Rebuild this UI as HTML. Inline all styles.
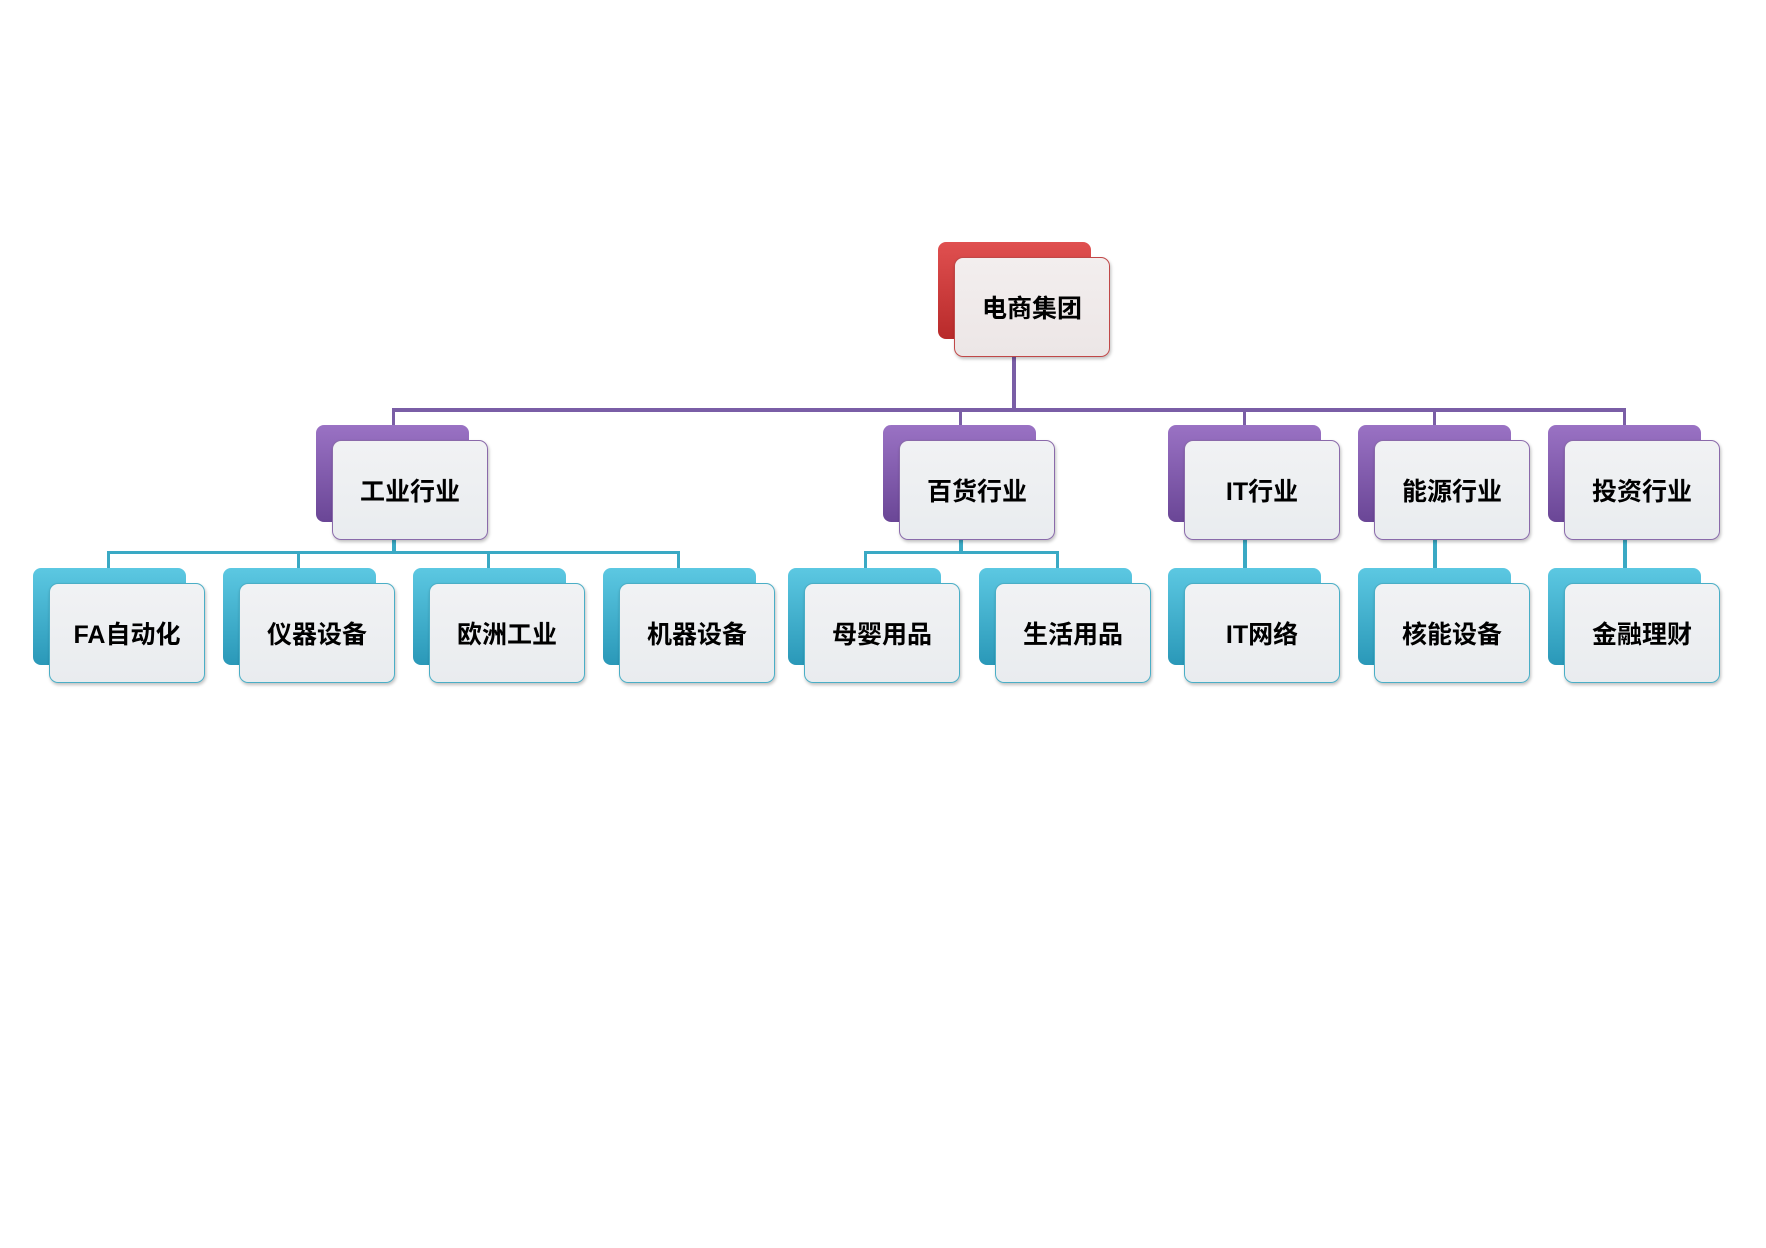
<!DOCTYPE html>
<html><head><meta charset="utf-8"><style>
body{margin:0;width:1766px;height:1248px;background:#fff;position:relative;overflow:hidden;font-family:"Liberation Sans","Noto Sans CJK SC",sans-serif}
.b{position:absolute;width:153px;height:97px;border-radius:8px}
.f{position:absolute;width:154px;height:98px;border-radius:9px;background:linear-gradient(#f1f2f4,#e9ecef);display:flex;align-items:center;justify-content:center;font-size:25px;font-weight:bold;color:#000;box-shadow:1px 2px 3px rgba(0,0,0,.25)}
.r .b{background:linear-gradient(#e05050,#b82a2a)}
.r .f{border:1.5px solid #c04848;background:linear-gradient(#f3eeee,#ece6e6)}
.p .b{background:linear-gradient(#9a72c4,#6a4696)}
.p .f{border:1.5px solid #8a6aaa}
.c .b{background:linear-gradient(#5cc8e2,#2a98b8)}
.c .f{border:1.5px solid #4aaec6}
.l{position:absolute}
</style></head><body>
<div class="l" style="left:1012px;top:357px;width:4px;height:55px;background:#7a5ea6"></div>
<div class="l" style="left:392px;top:408px;width:1234px;height:4px;background:#7a5ea6"></div>
<div class="l" style="left:392px;top:408px;width:3px;height:20px;background:#7a5ea6"></div>
<div class="l" style="left:959px;top:408px;width:3px;height:20px;background:#7a5ea6"></div>
<div class="l" style="left:1243px;top:408px;width:3px;height:20px;background:#7a5ea6"></div>
<div class="l" style="left:1433px;top:408px;width:3px;height:20px;background:#7a5ea6"></div>
<div class="l" style="left:1623px;top:408px;width:3px;height:20px;background:#7a5ea6"></div>
<div class="l" style="left:392px;top:540px;width:4px;height:13px;background:#3aa9c4"></div>
<div class="l" style="left:107px;top:551px;width:573px;height:3px;background:#3aa9c4"></div>
<div class="l" style="left:107px;top:551px;width:3px;height:20px;background:#3aa9c4"></div>
<div class="l" style="left:297px;top:551px;width:3px;height:20px;background:#3aa9c4"></div>
<div class="l" style="left:487px;top:551px;width:3px;height:20px;background:#3aa9c4"></div>
<div class="l" style="left:677px;top:551px;width:3px;height:20px;background:#3aa9c4"></div>
<div class="l" style="left:959px;top:540px;width:4px;height:13px;background:#3aa9c4"></div>
<div class="l" style="left:864px;top:551px;width:195px;height:3px;background:#3aa9c4"></div>
<div class="l" style="left:864px;top:551px;width:3px;height:20px;background:#3aa9c4"></div>
<div class="l" style="left:1056px;top:551px;width:3px;height:20px;background:#3aa9c4"></div>
<div class="l" style="left:1243px;top:540px;width:4px;height:30px;background:#3aa9c4"></div>
<div class="l" style="left:1433px;top:540px;width:4px;height:30px;background:#3aa9c4"></div>
<div class="l" style="left:1623px;top:540px;width:4px;height:30px;background:#3aa9c4"></div>

<div class="r"><div class="b" style="left:938px;top:242px"></div><div class="f" style="left:954px;top:257px">电商集团</div></div>

<div class="p">
<div class="b" style="left:316px;top:425px"></div><div class="f" style="left:332px;top:440px">工业行业</div>
<div class="b" style="left:883px;top:425px"></div><div class="f" style="left:899px;top:440px">百货行业</div>
<div class="b" style="left:1168px;top:425px"></div><div class="f" style="left:1184px;top:440px">IT行业</div>
<div class="b" style="left:1358px;top:425px"></div><div class="f" style="left:1374px;top:440px">能源行业</div>
<div class="b" style="left:1548px;top:425px"></div><div class="f" style="left:1564px;top:440px">投资行业</div>
</div>

<div class="c">
<div class="b" style="left:33px;top:568px"></div><div class="f" style="left:49px;top:583px">FA自动化</div>
<div class="b" style="left:223px;top:568px"></div><div class="f" style="left:239px;top:583px">仪器设备</div>
<div class="b" style="left:413px;top:568px"></div><div class="f" style="left:429px;top:583px">欧洲工业</div>
<div class="b" style="left:603px;top:568px"></div><div class="f" style="left:619px;top:583px">机器设备</div>
<div class="b" style="left:788px;top:568px"></div><div class="f" style="left:804px;top:583px">母婴用品</div>
<div class="b" style="left:979px;top:568px"></div><div class="f" style="left:995px;top:583px">生活用品</div>
<div class="b" style="left:1168px;top:568px"></div><div class="f" style="left:1184px;top:583px">IT网络</div>
<div class="b" style="left:1358px;top:568px"></div><div class="f" style="left:1374px;top:583px">核能设备</div>
<div class="b" style="left:1548px;top:568px"></div><div class="f" style="left:1564px;top:583px">金融理财</div>
</div>
</body></html>
